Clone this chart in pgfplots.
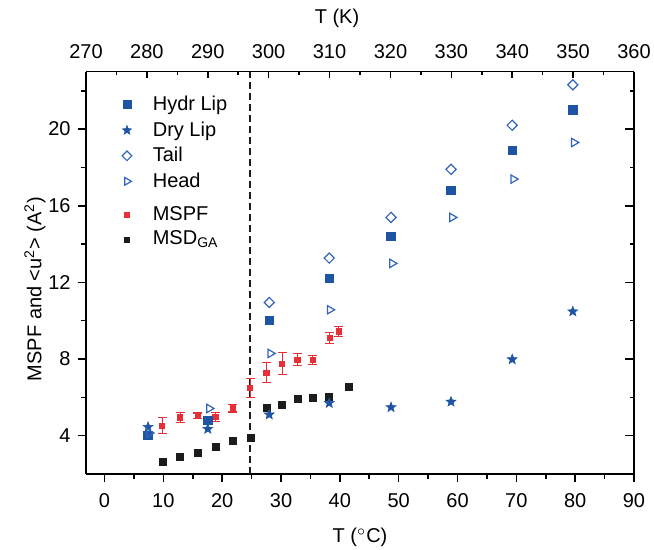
\documentclass[border=0pt]{standalone}
\usepackage{pgfplots}
\pgfplotsset{compat=1.18}
\usepackage{fontspec}
\setmainfont{Liberation Sans}

\definecolor{hblue}{RGB}{30,84,164}
\definecolor{oblue}{RGB}{50,100,190}
\definecolor{mred}{RGB}{232,46,54}
\definecolor{mblack}{RGB}{28,28,28}

% filled five-pointed star
\pgfdeclareplotmark{fstar}{%
  \pgfpathmoveto{\pgfpointpolar{90}{\pgfplotmarksize}}%
  \pgfpathlineto{\pgfpointpolar{126}{0.42\pgfplotmarksize}}%
  \pgfpathlineto{\pgfpointpolar{162}{\pgfplotmarksize}}%
  \pgfpathlineto{\pgfpointpolar{198}{0.42\pgfplotmarksize}}%
  \pgfpathlineto{\pgfpointpolar{234}{\pgfplotmarksize}}%
  \pgfpathlineto{\pgfpointpolar{270}{0.42\pgfplotmarksize}}%
  \pgfpathlineto{\pgfpointpolar{306}{\pgfplotmarksize}}%
  \pgfpathlineto{\pgfpointpolar{342}{0.42\pgfplotmarksize}}%
  \pgfpathlineto{\pgfpointpolar{18}{\pgfplotmarksize}}%
  \pgfpathlineto{\pgfpointpolar{54}{0.42\pgfplotmarksize}}%
  \pgfpathclose
  \pgfusepathqfillstroke}

\pgfplotsset{
  base/.style={
    width=274pt, height=201.2pt, scale only axis,
    xmin=-3.15, xmax=90, ymin=2, ymax=23,
    font=\fontsize{10}{12}\selectfont,
    /pgf/number format/assume math mode=true,
    axis line style={line width=0.8pt, black},
    major tick style={line width=0.8pt, black},
    minor tick style={line width=0.8pt, black},
  }
}

\begin{document}
\begin{tikzpicture}
% top axis in kelvin
\begin{axis}[base, xmin=270, xmax=360,
    axis x line*=top, axis y line=none, tick align=inside,
    xtick={270,280,...,360}, minor x tick num=1,
    major tick length=3.3pt, minor tick length=1.5pt,
    xticklabel style={yshift=3pt},
    xlabel={T (K)},
    xlabel style={at={(axis description cs:0.458,1.132)}, anchor=center},
]
\end{axis}
% right axis
\begin{axis}[base,
    axis x line=none, axis y line*=right, tick align=inside,
    ytick={4,8,...,20}, minor ytick={6,10,14,18,22}, yticklabels={},
    major tick length=4.5pt, minor tick length=2pt,
]
\end{axis}
% main axis
\begin{axis}[base,
    axis x line*=bottom, axis y line*=left, tick align=outside,
    xtick={0,10,...,90}, minor x tick num=1,
    ytick={4,8,...,20}, minor ytick={6,10,14,18,22},
    major tick length=4.2pt, minor tick length=2.5pt,
    xticklabel style={yshift=-2pt},
    xlabel={T ($^\circ$C)},
    xlabel style={at={(axis description cs:0.5,-0.157)}, anchor=center},
    ylabel={MSPF and <u\textsuperscript{2}> (A\textsuperscript{2})},
    ylabel style={at={(axis description cs:-0.093,0.46)}, anchor=center, rotate=0},
    legend style={draw=none, fill=none, at={(axis description cs:0.032,0.96)}, anchor=north west,
        font=\fontsize{10}{12}\selectfont, row sep=0pt, column sep=8.5pt},
    legend cell align=left,
]
\addplot[mblack, dashed, dash pattern=on 3.5pt off 2pt, line width=0.8pt, forget plot]
  coordinates {(24.7,2) (24.7,23)};

% MSPF with error bars
\addplot[only marks, mark=square*, mark size=1.3pt, mred, forget plot,
    error bars/.cd, y dir=both, y explicit,
    error bar style={line width=0.6pt, mred},
    error mark options={rotate=90, mark size=2.2pt, line width=0.6pt, mred}]
  table[x=x, y=y, y error=e] {
x y e
9.8 4.52 0.42
12.85 4.95 0.26
15.85 5.03 0.15
18.85 4.99 0.23
21.8 5.44 0.20
24.75 6.49 0.51
27.5 7.29 0.52
30.2 7.76 0.56
32.8 7.96 0.31
35.4 7.95 0.22
38.3 9.10 0.28
39.8 9.44 0.27
};

% MSD_GA
\addplot[only marks, mark=square*, mark size=1.75pt, mblack, forget plot]
  coordinates {(9.85,2.63) (12.85,2.89) (15.9,3.11) (18.85,3.43) (21.86,3.74) (24.86,3.90)
  (27.6,5.47) (30.2,5.62) (32.9,5.93) (35.5,5.98) (38.1,6.02) (41.6,6.57)};

% Hydr Lip
\addplot[only marks, mark=square*, mark size=2.1pt, hblue, forget plot]
  coordinates {(7.4,4.0) (17.55,4.8) (28,10.0) (38.2,12.2) (48.7,14.4) (58.9,16.8) (69.3,18.9) (79.6,21.0)};
% Dry Lip
\addplot[only marks, mark=fstar, mark size=2.6pt, hblue, fill=hblue, line width=0.3pt, forget plot]
  coordinates {(7.4,4.45) (17.55,4.35) (28,5.1) (38.2,5.7) (48.7,5.48) (58.9,5.77) (69.3,7.98) (79.6,10.48)};
% Tail
\addplot[only marks, mark=square, mark size=1.8pt, oblue, line width=0.6pt, forget plot,
    mark options={rotate=45}]
  coordinates {(28,10.95) (38.2,13.27) (48.7,15.39) (58.9,17.9) (69.3,20.2) (79.6,22.31)};
% Head
\addplot[only marks, mark=triangle, mark size=2.4pt, oblue, line width=0.6pt, forget plot,
    mark options={rotate=-90}]
  coordinates {(7.6,4.14) (17.8,5.42) (28.2,8.29) (38.3,10.57) (48.9,12.99) (59.1,15.39) (69.5,17.39) (79.8,19.3)};

\addlegendimage{only marks, mark=square*, mark size=2pt, hblue}
\addlegendentry{Hydr Lip}
\addlegendimage{only marks, mark=fstar, mark size=2.4pt, hblue, fill=hblue, line width=0.3pt}
\addlegendentry{Dry Lip}
\addlegendimage{only marks, mark=square, mark size=1.7pt, oblue, line width=0.6pt, mark options={rotate=45}}
\addlegendentry{Tail}
\addlegendimage{only marks, mark=triangle, mark size=2.2pt, oblue, line width=0.6pt, mark options={rotate=-90}}
\addlegendentry{Head}
\addlegendimage{empty legend}
\addlegendentry[inner sep=0pt, minimum height=4pt]{}
\addlegendimage{only marks, mark=square*, mark size=1.3pt, mred}
\addlegendentry{MSPF}
\addlegendimage{only marks, mark=square*, mark size=1.3pt, mblack}
\addlegendentry{MSD\textsubscript{GA}}
\end{axis}
\pgfresetboundingbox
\path[use as bounding box] (-43pt,-38pt) rectangle (284pt,237pt);
\end{tikzpicture}
\end{document}
